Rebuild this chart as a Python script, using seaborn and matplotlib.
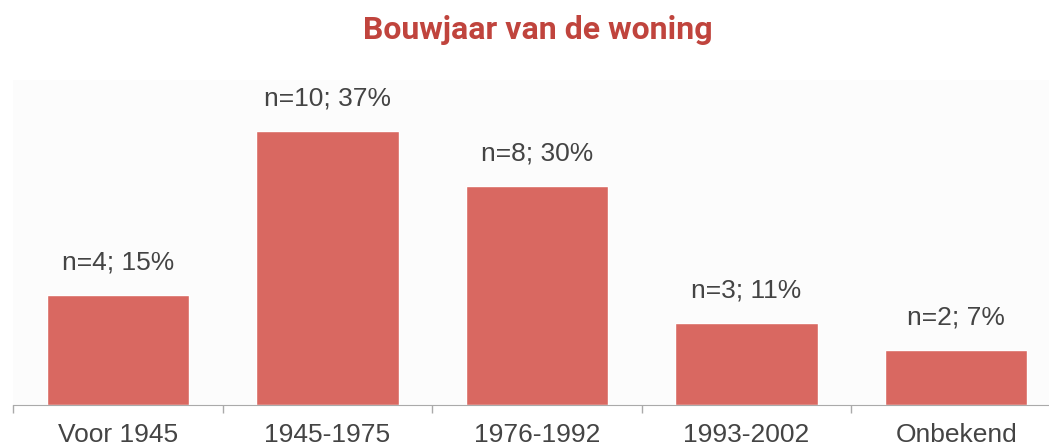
import numpy as np
import pandas as pd
import matplotlib
matplotlib.use("Agg")
import matplotlib.pyplot as plt
import seaborn as sns

categories = ["Voor 1945", "1945-1975", "1976-1992", "1993-2002", "Onbekend"]
counts = [4, 10, 8, 3, 2]
percentages = [15, 37, 30, 11, 7]


def bar_plot():
    df = pd.DataFrame({"bouwjaar": categories, "n": counts, "pct": percentages})

    sns.set_style("white")
    plt.rcParams["font.family"] = ["Liberation Sans", "DejaVu Sans"]

    fig = plt.figure(figsize=(10.49, 4.48), dpi=100)
    fig.patch.set_facecolor("white")
    W, H = 1049, 448
    # axes from x=13 (category -0.5) to 1061, y 80..405 in pixels
    ax = fig.add_axes([13 / W, (H - 405) / H, (1061 - 13) / W, (405 - 80) / H])
    ax.set_facecolor("#fcfcfc")

    sns.barplot(x="bouwjaar", y="n", data=df, color="#d96861", width=0.68,
                saturation=1, ax=ax)

    ax.set_xlim(-0.5, 4.5)
    ax.set_ylim(0, 11.86)

    for i, row in df.iterrows():
        ax.text(i, row["n"] + 0.75, f"n={row['n']}; {row['pct']}%",
                ha="center", va="bottom", fontsize=19, color="#444444")

    ax.set_xlabel("")
    ax.set_ylabel("")
    ax.set_yticks([])
    ax.tick_params(axis="x", which="major", length=0, labelsize=19,
                   labelcolor="#444444", pad=13)
    ax.set_xticks(np.arange(-0.5, 5, 1), minor=True)
    ax.tick_params(axis="x", which="minor", bottom=True, length=6,
                   color="#aaaaaa", width=1)
    for side in ["top", "right", "left"]:
        ax.spines[side].set_visible(False)
    ax.spines["bottom"].set_color("#aaaaaa")

    fig.text(538 / W, 1 - 30 / H, "Bouwjaar van de woning", ha="center",
             va="center", fontsize=23, fontweight="bold", color="#c0443d",
             family=["Roboto", "DejaVu Sans"])

    plt.savefig("out.png", dpi=100)


def main():
    bar_plot()


if __name__ == '__main__':
    main()
